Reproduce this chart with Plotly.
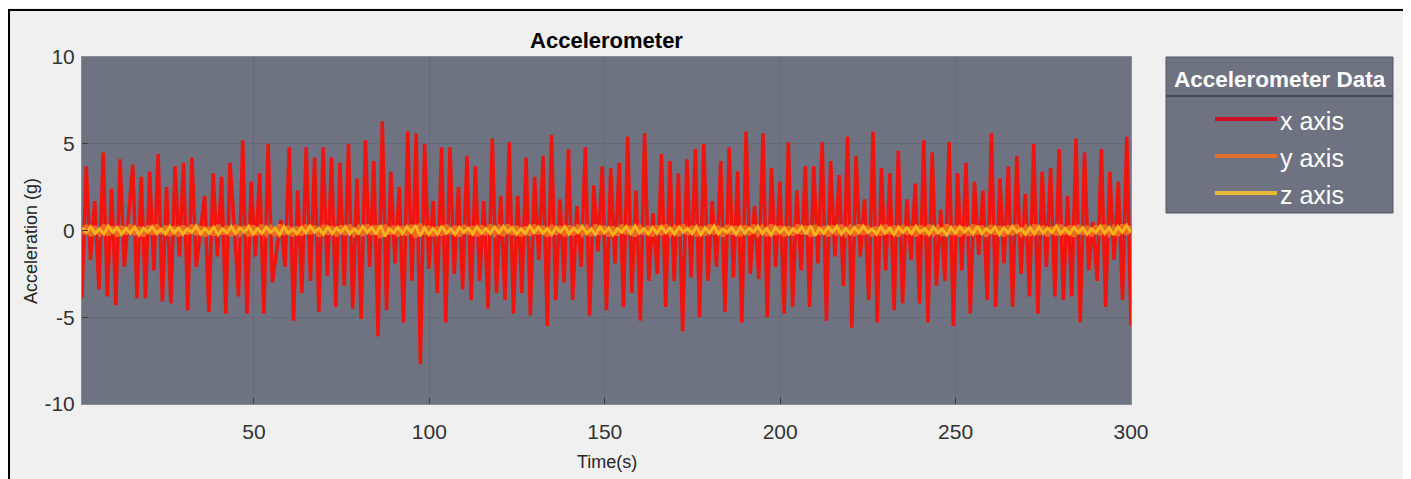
import numpy as np
import plotly.graph_objects as go

# ---------------- data ----------------
x_axis = [
    -3.9, 3.7, -1.7, 1.7, -3.4, 4.5, -3.8, 2.4, -4.3, 4.1, -2.1, 0.8, 3.8, -3.9, 3.1, -3.9, 3.4,
    -2.3, 4.4, -4.1, 2.5, -4.2, 3.7, -1.5, 3.9, -4.6, 4.2, -2.1, 0.0, 2.0, -4.7, 3.3, -1.5, 3.1,
    -4.8, 3.9, 0.2, -3.8, 5.2, -4.8, 2.8, -1.5, 3.3, -4.8, 5.0, -3.0, -1.2, 0.6, -2.1, 4.8, -5.2, 2.3,
    -3.6, 4.8, -2.9, 4.2, -4.7, 4.8, -2.6, 4.2, -4.4, 3.9, -3.2, 5.0, -4.5, 3.0, -5.1, 5.2,
    -2.1, 4.0, -6.1, 6.3, -4.6, 3.4, -1.9, 2.5, -5.3, 5.7, -2.9, 5.6, -7.7, 5.0, -2.2, 1.7,
    -3.6, 4.8, -5.3, 4.8, -2.5, 2.5, -3.4, 4.3, -4.0, 3.7, -2.9, 1.7, -4.5, 5.3, -3.6, 2.0,
    -4.0, 5.1, -4.8, 2.0, -3.6, 4.2, -4.9, 3.1, -1.7, 4.3, -5.5, 5.5, -4.0, 1.8, -3.0, 4.7,
    -4.0, 1.4, -2.1, 4.8, -4.9, 2.6, -1.2, 3.7, -4.6, 3.6, -1.9, 3.9, -4.4, 5.4, -3.6, 2.3,
    -5.2, 5.6, -2.9, 1.0, -2.5, 4.4, -4.4, 4.0, -2.9, 3.3, -5.8, 4.1, -2.7, 4.7, -5.0, 5.0,
    -2.9, 1.7, -2.1, 4.0, -4.7, 4.8, -2.7, 3.4, -5.3, 5.7, -2.5, 1.4, -2.8, 5.6, -5.0, 3.6,
    -2.1, 2.8, -4.8, 5.1, -4.4, 2.3, -2.3, 3.7, -4.4, 3.7, -1.9, 5.1, -5.2, 4.0, -1.5, 3.2,
    -3.2, 5.4, -5.6, 4.3, -1.5, 1.8, -4.0, 5.7, -5.3, 3.6, -2.3, 3.3, -4.6, 4.6, -4.2, 1.8,
    -1.7, 2.7, -4.2, 5.2, -5.3, 4.5, -3.2, 1.2, -2.9, 5.1, -5.5, 3.3, -2.3, 3.9, -4.8, 2.8,
    -1.4, 2.3, -4.0, 5.6, -4.4, 3.0, -1.9, 3.7, -4.4, 4.3, -2.5, 2.1, -3.8, 5.0, -4.8, 3.4,
    -2.1, 3.6, -3.8, 4.7, -4.0, 2.0, -3.8, 5.3, -5.3, 4.5, -2.3, 0.5, -2.9, 4.7, -4.4, 3.4,
    -1.7, 2.8, -4.0, 5.4, -5.5,
]

y_axis = [
    -0.2, 0.28, -0.3, 0.22, -0.18, 0.3, -0.26, 0.2, -0.32, 0.24, -0.2, 0.3, -0.24, 0.18, -0.3, 0.26,
    -0.22, 0.32, -0.18, 0.24, -0.28, 0.2, -0.3, 0.26, -0.2, 0.3, -0.24, 0.22, -0.32, 0.18, -0.26, 0.3,
    -0.2, 0.24, -0.3, 0.28, -0.18, 0.22, -0.3, 0.26, -0.24, 0.3, -0.2, 0.18, -0.28, 0.32, -0.22, 0.24,
    -0.3, 0.2, -0.26, 0.3, -0.18, 0.24, -0.32, 0.28, -0.2, 0.22, -0.3, 0.26, -0.24, 0.3, -0.2, 0.18,
    -0.28, 0.32, -0.22, 0.26, -0.4, 0.3, -0.2, 0.24, -0.3, 0.22, -0.26, 0.3, -0.38, 0.36, -0.2, 0.24,
    -0.3, 0.2, -0.26, 0.3, -0.18, 0.24, -0.32, 0.28, -0.2, 0.22, -0.3, 0.26, -0.24, 0.3, -0.2, 0.18,
    -0.28, 0.32, -0.22, 0.24, -0.3, 0.2, -0.26, 0.3, -0.18, 0.24, -0.32, 0.28, -0.2, 0.22, -0.3, 0.26,
    -0.24, 0.3, -0.2, 0.18, -0.28, 0.32, -0.22, 0.24, -0.3, 0.2, -0.26, 0.3, -0.18, 0.24, -0.32, 0.28,
    -0.2, 0.22, -0.3, 0.26, -0.24, 0.3, -0.2, 0.18, -0.28, 0.32, -0.22, 0.24, -0.3, 0.2, -0.26, 0.3,
    -0.18, 0.24, -0.32, 0.28, -0.2, 0.22, -0.3, 0.26, -0.24, 0.3, -0.2, 0.18, -0.28, 0.32, -0.22, 0.24,
    -0.3, 0.2, -0.26, 0.3, -0.18, 0.24, -0.32, 0.28, -0.2, 0.22, -0.3, 0.26, -0.24, 0.3, -0.2, 0.18,
    -0.28, 0.32, -0.22, 0.24, -0.3, 0.2, -0.26, 0.3, -0.18, 0.24, -0.32, 0.28, -0.2, 0.22, -0.3, 0.26,
    -0.24, 0.3, -0.2, 0.18, -0.28, 0.32, -0.22, 0.24, -0.3, 0.2, -0.26, 0.3, -0.18, 0.24, -0.32, 0.28,
    -0.2, 0.22, -0.3, 0.26, -0.24, 0.3, -0.2, 0.18, -0.28, 0.32, -0.22, 0.24, -0.3, 0.2, -0.26, 0.3,
    -0.18, 0.24, -0.32, 0.28, -0.2, 0.22, -0.3, 0.26, -0.24, 0.3, -0.2, 0.18, -0.28, 0.32, -0.22, 0.24,
]

z_axis = [
    0.15, -0.12, 0.22, -0.18, 0.1, -0.2, 0.25, -0.1, 0.18, -0.22, 0.12, -0.15, 0.2, -0.25, 0.14, -0.1,
    0.22, -0.18, 0.08, -0.2, 0.24, -0.14, 0.16, -0.22, 0.1, -0.12, 0.26, -0.2, 0.12, -0.16, 0.2, -0.24,
    0.1, -0.14, 0.22, -0.18, 0.16, -0.1, 0.24, -0.22, 0.12, -0.18, 0.2, -0.12, 0.14, -0.26, 0.22, -0.16,
    0.1, -0.2, 0.18, -0.14, 0.26, -0.1, 0.12, -0.22, 0.2, -0.18, 0.14, -0.12, 0.22, -0.2, 0.1, -0.16,
    0.24, -0.12, 0.18, -0.22, 0.3, -0.35, 0.12, -0.14, 0.2, -0.18, 0.22, -0.1, 0.3, -0.32, 0.16, -0.24,
    0.12, -0.2, 0.26, -0.16, 0.1, -0.22, 0.18, -0.12, 0.14, -0.2, 0.22, -0.16, 0.12, -0.18, 0.2, -0.14,
    0.24, -0.1, 0.16, -0.22, 0.1, -0.18, 0.26, -0.12, 0.2, -0.16, 0.12, -0.24, 0.18, -0.1, 0.22, -0.2,
    0.14, -0.12, 0.24, -0.18, 0.1, -0.22, 0.2, -0.14, 0.16, -0.26, 0.12, -0.1, 0.22, -0.18, 0.26, -0.14,
    0.1, -0.2, 0.18, -0.16, 0.24, -0.12, 0.14, -0.22, 0.2, -0.1, 0.12, -0.18, 0.22, -0.24, 0.16, -0.14,
    0.26, -0.2, 0.1, -0.12, 0.18, -0.22, 0.2, -0.16, 0.14, -0.1, 0.24, -0.18, 0.12, -0.26, 0.2, -0.14,
    0.16, -0.22, 0.1, -0.12, 0.22, -0.2, 0.28, -0.3, 0.14, -0.16, 0.2, -0.1, 0.24, -0.22, 0.12, -0.18,
    0.18, -0.14, 0.26, -0.12, 0.1, -0.2, 0.22, -0.16, 0.14, -0.24, 0.2, -0.1, 0.16, -0.18, 0.24, -0.12,
    0.12, -0.22, 0.2, -0.14, 0.1, -0.26, 0.18, -0.16, 0.22, -0.1, 0.14, -0.2, 0.26, -0.18, 0.12, -0.12,
    0.2, -0.24, 0.16, -0.14, 0.24, -0.1, 0.1, -0.22, 0.18, -0.2, 0.22, -0.16, 0.14, -0.12, 0.26, -0.18,
    0.12, -0.2, 0.2, -0.14, 0.16, -0.22, 0.1, -0.12, 0.24, -0.18, 0.18, -0.24, 0.22, -0.1, 0.3, -0.12,
]

series_names = ["x axis", "y axis", "z axis"]
series_colors = ["#f0140f", "#ee6a22", "#f7b21e"]
legend_colors = ["#cc1024", "#e0702c", "#e8b83a"]
x_ticks = [50, 100, 150, 200, 250, 300]
y_ticks = [-10, -5, 0, 5, 10]
y_tick_text = ["-10", "-5", "0", "5", "10"]

time_x = np.linspace(1, 300, len(x_axis))
time_y = np.linspace(1, 300, len(y_axis))
time_z = np.linspace(1, 300, len(z_axis))

# ---------------- geometry (page pixels; the page body adds an 8px offset) ----------------
OFF = 8
W, H = 1411 - OFF, 479 - OFF
L, R, T, B = 82, 1131, 57, 404          # plot area in page pixels
pw, ph = R - L, B - T


def px(xp):
    return (xp - L) / pw


def py(yp):
    return (B - yp) / ph


FONT = "Liberation Sans, Arial, Helvetica, sans-serif"
PLOT_BG = "#6f7281"
GRID = "#666977"

fig = go.Figure()
fig.add_trace(go.Scatter(x=time_x, y=x_axis, mode="lines", name=series_names[0],
                         line=dict(color=series_colors[0], width=3.5)))
fig.add_trace(go.Scatter(x=time_y, y=y_axis, mode="lines", name=series_names[1],
                         line=dict(color=series_colors[1], width=4.5)))
fig.add_trace(go.Scatter(x=time_z, y=z_axis, mode="lines", name=series_names[2],
                         line=dict(color=series_colors[2], width=3)))

shapes = []
annotations = []

# outer frame of the screenshot
shapes.append(dict(type="rect", xref="paper", yref="paper",
                   x0=px(9), x1=px(1404), y0=py(490), y1=py(10),
                   line=dict(color="#000000", width=2), fillcolor="rgba(0,0,0,0)", layer="below"))

# manual legend box
lx0, lx1, ly0, ly1 = 1166, 1393, 57, 213
shapes.append(dict(type="rect", xref="paper", yref="paper",
                   x0=px(lx0), x1=px(lx1), y0=py(ly1), y1=py(ly0),
                   line=dict(color="#555866", width=1), fillcolor=PLOT_BG))
shapes.append(dict(type="line", xref="paper", yref="paper",
                   x0=px(lx0), x1=px(lx1), y0=py(96), y1=py(96),
                   line=dict(color="#4a4c57", width=2)))
annotations.append(dict(text="<b>Accelerometer Data</b>", xref="paper", yref="paper",
                        x=px(1280), y=py(79), xanchor="center", yanchor="middle",
                        showarrow=False, font=dict(family=FONT, size=22.5, color="#ffffff")))
item_y = [119, 156, 193]
for name, col, yy in zip(series_names, legend_colors, item_y):
    shapes.append(dict(type="line", xref="paper", yref="paper",
                       x0=px(1215), x1=px(1277), y0=py(yy), y1=py(yy),
                       line=dict(color=col, width=4)))
    annotations.append(dict(text=name, xref="paper", yref="paper",
                            x=px(1278), y=py(yy + 2), xanchor="left", yanchor="middle",
                            showarrow=False, font=dict(family=FONT, size=25, color="#ffffff")))

# axis titles
annotations.append(dict(text="Time(s)", xref="paper", yref="paper",
                        x=0.5, y=py(462), xanchor="center", yanchor="middle",
                        showarrow=False, font=dict(family=FONT, size=18, color="#262626")))
annotations.append(dict(text="Acceleration (g)", xref="paper", yref="paper",
                        x=px(31), y=py(241), xanchor="center", yanchor="middle", textangle=-90,
                        showarrow=False, font=dict(family=FONT, size=18, color="#262626")))

fig.update_layout(
    width=W, height=H,
    margin=dict(l=L - OFF, r=W - (R - OFF), t=T - OFF, b=H - (B - OFF), pad=0),
    paper_bgcolor="#f0f0f0",
    plot_bgcolor=PLOT_BG,
    showlegend=False,
    title=dict(text="<b>Accelerometer</b>", x=0.5, xref="paper",
               xanchor="center", y=1 - (40 - OFF) / H, yanchor="middle",
               font=dict(family=FONT, size=22, color="#000000")),
    shapes=shapes,
    annotations=annotations,
)
fig.update_xaxes(range=[1, 300], tickvals=x_ticks, ticks="inside", ticklen=6,
                 tickcolor="#3a3c44", showgrid=True, gridcolor=GRID, gridwidth=1,
                 zeroline=False, showline=True, linecolor="#8a8c96", linewidth=1, mirror=True,
                 tickfont=dict(family=FONT, size=21, color="#333333"), ticklabelstandoff=9)
fig.update_yaxes(range=[-10, 10], tickvals=y_ticks, ticktext=y_tick_text, ticks="inside", ticklen=6,
                 tickcolor="#3a3c44", showgrid=True, gridcolor=GRID, gridwidth=1,
                 zeroline=False, showline=True, linecolor="#8a8c96", linewidth=1, mirror=True,
                 tickfont=dict(family=FONT, size=21, color="#333333"), ticklabelstandoff=2)

fig.write_html("out.html")
